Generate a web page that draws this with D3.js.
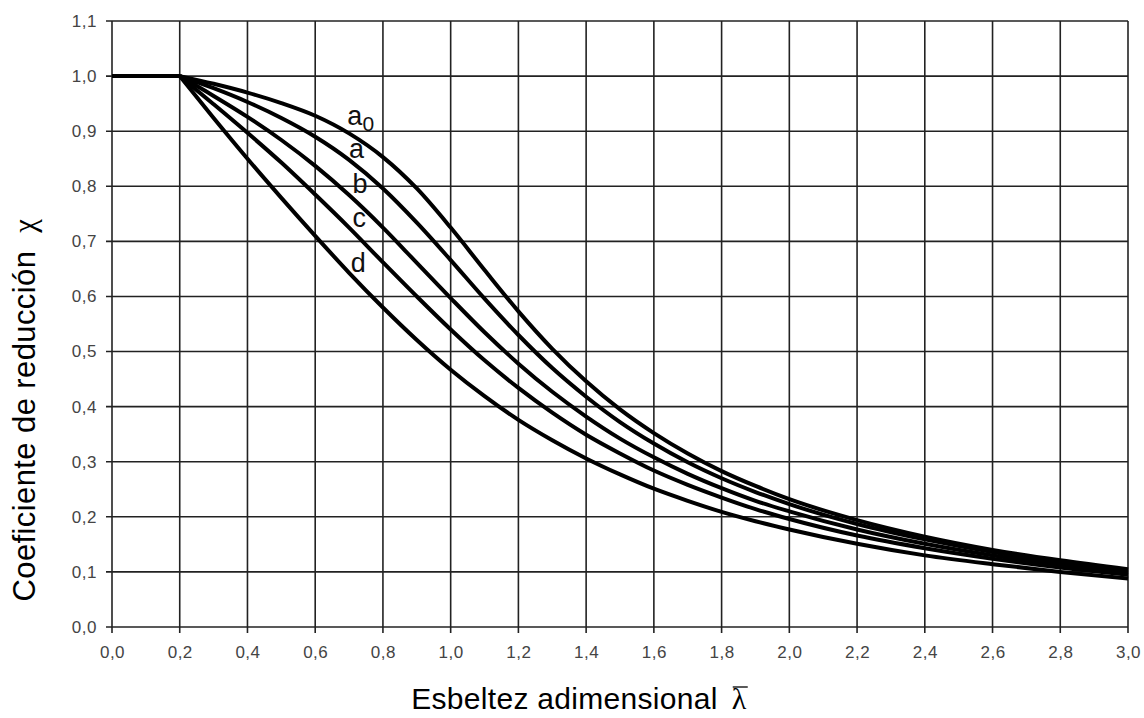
<!DOCTYPE html>
<html>
<head>
<meta charset="utf-8">
<script src="https://cdn.jsdelivr.net/npm/d3@7"></script>
<style>
  body { margin: 0; background: #fff; }
  svg { display: block; }
</style>
</head>
<body>
<svg id="chart"></svg>
<script>
// slenderness values where the curves were read
var lambdas = [0.0, 0.2, 0.3, 0.4, 0.5, 0.6, 0.7, 0.8, 0.9, 1.0, 1.1, 1.2, 1.3, 1.4, 1.5, 1.6, 1.7, 1.8, 1.9, 2.0, 2.2, 2.4, 2.6, 2.8, 3.0];

// reduction factor chi per buckling curve
var curveA0 = [1.0, 1.0, 0.986, 0.970, 0.951, 0.928, 0.896, 0.853, 0.796, 0.725, 0.648, 0.573, 0.505, 0.446, 0.395, 0.352, 0.315, 0.283, 0.256, 0.232, 0.194, 0.164, 0.140, 0.121, 0.105];
var curveA  = [1.0, 1.0, 0.978, 0.953, 0.924, 0.890, 0.848, 0.796, 0.734, 0.666, 0.596, 0.530, 0.470, 0.418, 0.372, 0.333, 0.299, 0.270, 0.245, 0.223, 0.187, 0.159, 0.136, 0.118, 0.103];
var curveB  = [1.0, 1.0, 0.964, 0.926, 0.884, 0.837, 0.784, 0.725, 0.661, 0.597, 0.535, 0.478, 0.427, 0.382, 0.342, 0.308, 0.278, 0.252, 0.229, 0.210, 0.177, 0.151, 0.130, 0.113, 0.099];
var curveC  = [1.0, 1.0, 0.949, 0.897, 0.843, 0.785, 0.725, 0.662, 0.600, 0.540, 0.484, 0.434, 0.389, 0.349, 0.315, 0.284, 0.258, 0.235, 0.214, 0.196, 0.166, 0.143, 0.124, 0.108, 0.095];
var curveD  = [1.0, 1.0, 0.924, 0.850, 0.779, 0.710, 0.643, 0.580, 0.521, 0.467, 0.419, 0.376, 0.339, 0.306, 0.277, 0.251, 0.229, 0.209, 0.192, 0.177, 0.151, 0.130, 0.114, 0.100, 0.088];

var curveNames = ["a0", "a", "b", "c", "d"];
// where each curve name is written (lambda, chi)
var labelLambda = [0.695, 0.70, 0.71, 0.71, 0.705];
var labelChi    = [0.911, 0.851, 0.787, 0.726, 0.644];

var xTicks = [0.0, 0.2, 0.4, 0.6, 0.8, 1.0, 1.2, 1.4, 1.6, 1.8, 2.0, 2.2, 2.4, 2.6, 2.8, 3.0];
var yTicks = [0.0, 0.1, 0.2, 0.3, 0.4, 0.5, 0.6, 0.7, 0.8, 0.9, 1.0, 1.1];

var width = 1144, height = 718;
var margin = {top: 21, right: 16, bottom: 91, left: 112};

var svg = d3.select("#chart")
  .attr("width", width)
  .attr("height", height);

var x = d3.scaleLinear().domain([0, 3.0]).range([margin.left, width - margin.right]);
var y = d3.scaleLinear().domain([0, 1.1]).range([height - margin.bottom, margin.top]);

var fmt = function (d) { return d3.format(".1f")(d).replace(".", ","); };

// grid
var grid = svg.append("g").attr("class", "grid");

grid.selectAll("line.v")
  .data(xTicks)
  .enter().append("line")
    .attr("class", "v")
    .attr("x1", function (d) { return x(d); })
    .attr("x2", function (d) { return x(d); })
    .attr("y1", y(1.1))
    .attr("y2", y(0) + 6)
    .style("stroke", "#222")
    .style("stroke-width", 1.6);

grid.selectAll("line.h")
  .data(yTicks)
  .enter().append("line")
    .attr("class", "h")
    .attr("x1", x(0) - 6)
    .attr("x2", x(3.0))
    .attr("y1", function (d) { return y(d); })
    .attr("y2", function (d) { return y(d); })
    .style("stroke", "#222")
    .style("stroke-width", 1.6);

// axes (labels only, the grid draws the lines)
var xAxis = svg.append("g")
  .attr("transform", "translate(0," + y(0) + ")")
  .call(d3.axisBottom(x).tickValues(xTicks).tickFormat(fmt).tickSize(0).tickPadding(19));

var yAxis = svg.append("g")
  .attr("transform", "translate(" + x(0) + ",0)")
  .call(d3.axisLeft(y).tickValues(yTicks).tickFormat(fmt).tickSize(0).tickPadding(15));

[xAxis, yAxis].forEach(function (ax) {
  ax.select(".domain").remove();
  ax.selectAll("text")
    .style("font-family", "'Liberation Sans', Arial, sans-serif")
    .style("font-size", "17px")
    .style("letter-spacing", "0.5px")
    .style("fill", "#444");
});

// curves: flat plateau up to 0.2, then the smooth part
var series = [curveA0, curveA, curveB, curveC, curveD];

var line = d3.line()
  .x(function (d) { return x(d[0]); })
  .y(function (d) { return y(d[1]); })
  .curve(d3.curveMonotoneX);

var curves = svg.append("g").attr("class", "curves");

series.forEach(function (s) {
  var pts = s.map(function (v, i) { return [lambdas[i], v]; });
  [pts.slice(0, 2), pts.slice(1)].forEach(function (part) {
    curves.append("path")
      .attr("d", line(part))
      .style("fill", "none")
      .style("stroke", "#000")
      .style("stroke-width", 4)
      .style("stroke-linejoin", "round");
  });
});

// curve names
var labels = svg.append("g").attr("class", "curve-labels")
  .selectAll("text")
  .data(curveNames)
  .enter().append("text")
    .attr("x", function (d, i) { return x(labelLambda[i]); })
    .attr("y", function (d, i) { return y(labelChi[i]); })
    .style("font-family", "'Liberation Sans', Arial, sans-serif")
    .style("font-size", "27px")
    .style("fill", "#111");

labels.append("tspan").text(function (d) { return d.charAt(0); });
labels.filter(function (d) { return d.length > 1; })
  .append("tspan")
    .attr("dy", 6)
    .style("font-size", "21px")
    .text(function (d) { return d.slice(1); });

// x title with lambda bar
var xTitle = svg.append("g");
var xMain = xTitle.append("text")
  .attr("x", 0)
  .attr("y", 0)
  .style("font-family", "'Liberation Sans', Arial, sans-serif")
  .style("font-size", "30px")
  .style("letter-spacing", "0.3px")
  .style("fill", "#000")
  .text("Esbeltez adimensional");
var mainLen = xMain.node().getComputedTextLength();
var lam = xTitle.append("text")
  .attr("x", mainLen + 14)
  .attr("y", 0)
  .style("font-family", "'Liberation Serif', 'DejaVu Serif', serif")
  .style("font-size", "30px")
  .style("fill", "#000")
  .text("λ");
var lb = lam.node().getBBox();
xTitle.append("line")
  .attr("x1", lb.x + 1)
  .attr("x2", lb.x + lb.width + 1)
  .attr("y1", -22)
  .attr("y2", -22)
  .style("stroke", "#000")
  .style("stroke-width", 1.3);
var totalLen = lb.x + lb.width;
xTitle.attr("transform", "translate(" + (579 - totalLen / 2) + ",709)");

// y title
var yTitle = svg.append("text")
  .attr("transform", "translate(35,410) rotate(-90)")
  .attr("text-anchor", "middle")
  .style("font-family", "'Liberation Sans', Arial, sans-serif")
  .style("font-size", "31px")
  .style("letter-spacing", "0.4px")
  .style("fill", "#000");
yTitle.append("tspan").text("Coeficiente de reducción\u00a0 ");
yTitle.append("tspan")
  .style("font-family", "'Liberation Serif', 'DejaVu Serif', serif")
  .text("χ");
</script>
</body>
</html>
